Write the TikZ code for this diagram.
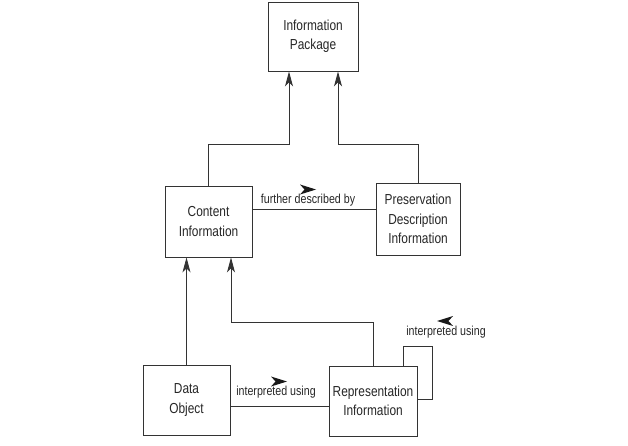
\documentclass[tikz,border=0pt]{standalone}
\usepackage{fontspec}
\setmainfont{Liberation Sans}[FakeStretch=0.82]
\usetikzlibrary{arrows.meta}
\definecolor{ln}{HTML}{333333}
\tikzset{
  box/.style={draw=ln, line width=0.9pt, rectangle, align=center, inner sep=0pt, font=\fontsize{14.5}{19.5}\selectfont, text=black!85},
  conn/.style={draw=ln, line width=0.9pt},
  arr/.style={conn, -{Stealth[length=15pt, width=8pt, inset=4pt]}},
  lbl/.style={font=\fontsize{13}{15}\selectfont, text=black!85, inner sep=0pt},
  dirmark/.style={fill=black!90}
}
\begin{document}
\begin{tikzpicture}[x=1pt,y=-1pt]
\useasboundingbox (0,0) rectangle (628,446);
\node[box, minimum width=90pt, minimum height=69pt] (IP) at (313,36.5) {Information\\Package};
\node[box, minimum width=87pt, minimum height=71pt] (CI) at (208.5,221.5) {Content\\Information};
\node[box, minimum width=84pt, minimum height=72pt] (PDI) at (418,219) {Preservation\\Description\\Information};
\node[box, minimum width=87pt, minimum height=70pt] (DO) at (186.5,400) {Data\\Object};
\node[box, minimum width=88pt, minimum height=70pt] (RI) at (373,401) {Representation\\Information};

\coordinate (j1) at (289,144);
\coordinate (j2) at (338,144);
\coordinate (j3) at (231,322);
\coordinate (l1) at (0,209);
\coordinate (l2) at (0,406);
\coordinate (lp) at (432,346);
\coordinate (lb) at (0,399);

\draw[arr] (CI.north) |- (j1) -- (j1 |- IP.south);
\draw[arr] (PDI.north) |- (j2) -- (j2 |- IP.south);
\draw[arr] (DO.north) -- (DO.north |- CI.south);
\draw[arr] (RI.north) |- (j3) -- (j3 |- CI.south);
\draw[conn] (CI.east |- l1) -- (PDI.west |- l1);
\draw[conn] (DO.east |- l2) -- (RI.west |- l2);
\draw[conn] ([xshift=30pt]RI.north) |- (lp) |- (RI.east |- lb);

\node[lbl] (t1) at (308,200) {further described by};
\node[lbl] (t2) at (276,392) {interpreted using};
\node[lbl] (t3) at (446,332) {interpreted using};

\fill[dirmark] (300,184.5) -- (316,189.5) -- (300,194.5) -- (304.5,189.5) -- cycle;
\fill[dirmark] (271,376.5) -- (287,381.5) -- (271,386.5) -- (275.5,381.5) -- cycle;
\fill[dirmark] (453,316) -- (437,321) -- (453,326) -- (448.5,321) -- cycle;
\end{tikzpicture}
\end{document}
